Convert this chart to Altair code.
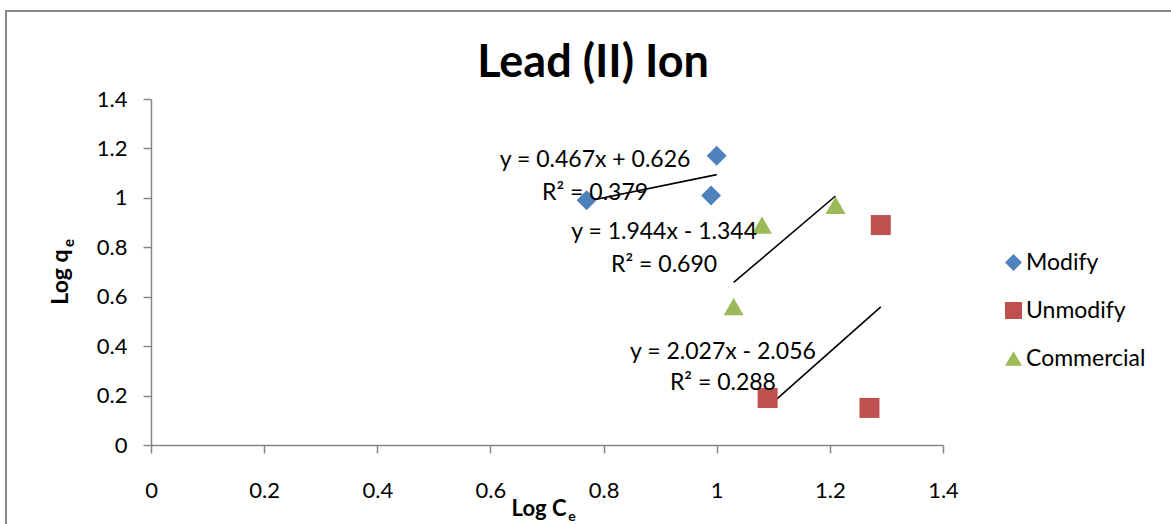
import altair as alt
import pandas as pd

# ---- data ----
series_names = ["Modify", "Unmodify", "Commercial"]
modify_x = [0.77, 0.99, 1.00]
modify_y = [0.99, 1.01, 1.17]
unmodify_x = [1.09, 1.27, 1.29]
unmodify_y = [0.19, 0.15, 0.89]
commercial_x = [1.03, 1.08, 1.21]
commercial_y = [0.56, 0.89, 0.97]

colors = ["#4F81BD", "#C0504D", "#9BBB59"]
shapes = ["diamond", "square", "triangle-up"]

eq_text = ["y = 0.467x + 0.626", "R² = 0.379",
           "y = 1.944x - 1.344", "R² = 0.690",
           "y = 2.027x - 2.056", "R² = 0.288"]
eq_x = [0.785, 0.785, 0.907, 0.907, 1.011, 1.011]
eq_y = [1.154, 1.020, 0.862, 0.729, 0.377, 0.251]

x_ticks = [0, 0.2, 0.4, 0.6, 0.8, 1, 1.2, 1.4]
y_ticks = [0, 0.2, 0.4, 0.6, 0.8, 1, 1.2, 1.4]

FONT = "Lato"
AXIS_GRAY = "#868686"

rows = []
for name, xs, ys in [("Modify", modify_x, modify_y),
                     ("Unmodify", unmodify_x, unmodify_y),
                     ("Commercial", commercial_x, commercial_y)]:
    for xv, yv in zip(xs, ys):
        rows.append({"series": name, "x": xv, "y": yv})
df = pd.DataFrame(rows)
eq_df = pd.DataFrame({"x": eq_x, "y": eq_y, "text": eq_text})

xscale = alt.Scale(domain=[0, 1.4], nice=False, zero=False)
yscale = alt.Scale(domain=[0, 1.4], nice=False, zero=False)

x_axis = alt.Axis(values=x_ticks, title=None, grid=False, domainColor=AXIS_GRAY,
                  domainWidth=1.5, tickColor=AXIS_GRAY, tickWidth=1.5, tickSize=8,
                  labelFont=FONT, labelFontSize=22, labelColor="#000000", format="~g",
                  labelPadding=27, labelFlush=False)
y_axis = alt.Axis(values=y_ticks, title=None, grid=False, domainColor=AXIS_GRAY,
                  domainWidth=1.5, tickColor=AXIS_GRAY, tickWidth=1.5, tickSize=8,
                  labelFont=FONT, labelFontSize=22, labelColor="#000000", format="~g",
                  labelPadding=16, labelFlush=False)

legend = alt.Legend(title=None, orient="none", legendX=851, legendY=152,
                    labelFont=FONT, labelFontSize=23, labelColor="#000000",
                    symbolSize=289, symbolStrokeWidth=0, symbolOpacity=1,
                    rowPadding=24, labelOffset=1, padding=0)

base = alt.Chart(df)

points = base.mark_point(filled=True, size=400, opacity=1, strokeWidth=0).encode(
    x=alt.X("x:Q", scale=xscale, axis=x_axis),
    y=alt.Y("y:Q", scale=yscale, axis=y_axis),
    color=alt.Color("series:N",
                    scale=alt.Scale(domain=series_names, range=colors),
                    legend=legend),
    shape=alt.Shape("series:N",
                    scale=alt.Scale(domain=series_names, range=shapes),
                    legend=legend),
)

trend = base.transform_regression("x", "y", groupby=["series"]).mark_line(
    color="black", strokeWidth=1.6
).encode(
    x=alt.X("x:Q", scale=xscale),
    y=alt.Y("y:Q", scale=yscale),
    detail="series:N",
)

eqs = alt.Chart(eq_df).mark_text(font=FONT, fontSize=23, color="#000000",
                                 align="center", baseline="middle").encode(
    x=alt.X("x:Q", scale=xscale),
    y=alt.Y("y:Q", scale=yscale),
    text="text:N",
)

anno = pd.DataFrame({"k": [0]})
title = alt.Chart(anno).mark_text(text="Lead (II) Ion", font=FONT, fontSize=45,
                                  fontWeight="bold", align="center",
                                  baseline="alphabetic", color="#000000").encode(
    x=alt.value(442), y=alt.value(-22))

ytitle = alt.Chart(anno).mark_text(text="Log q", font=FONT, fontSize=23, fontWeight="bold",
                                   angle=270, align="center", baseline="middle",
                                   color="#000000").encode(
    x=alt.value(-90), y=alt.value(178))
ytitle_sub = alt.Chart(anno).mark_text(text="e", font=FONT, fontSize=15, fontWeight="bold",
                                       angle=270, align="center", baseline="middle",
                                       color="#000000").encode(
    x=alt.value(-82), y=alt.value(144))

xtitle = alt.Chart(anno).mark_text(text="Log C", font=FONT, fontSize=22, fontWeight="bold",
                                   align="center", baseline="alphabetic",
                                   color="#000000").encode(
    x=alt.value(388), y=alt.value(417))
xtitle_sub = alt.Chart(anno).mark_text(text="e", font=FONT, fontSize=14, fontWeight="bold",
                                       align="center", baseline="alphabetic",
                                       color="#000000").encode(
    x=alt.value(421), y=alt.value(422))

border = alt.Chart(anno).mark_rect(fill=None, fillOpacity=0, stroke="#888888",
                                   strokeWidth=2).encode(
    x=alt.value(-145), x2=alt.value(1040), y=alt.value(-88), y2=alt.value(440))

chart = alt.layer(border, trend, points, eqs, title, ytitle, ytitle_sub, xtitle, xtitle_sub).properties(
    width=792, height=346,
    padding={"left": 151, "top": 99, "right": 228, "bottom": 79},
    autosize=alt.AutoSizeParams(type="none"),
    background="white",
).configure_view(stroke=None)

chart.save("out.html", embed_options={"renderer": "svg", "actions": False})
